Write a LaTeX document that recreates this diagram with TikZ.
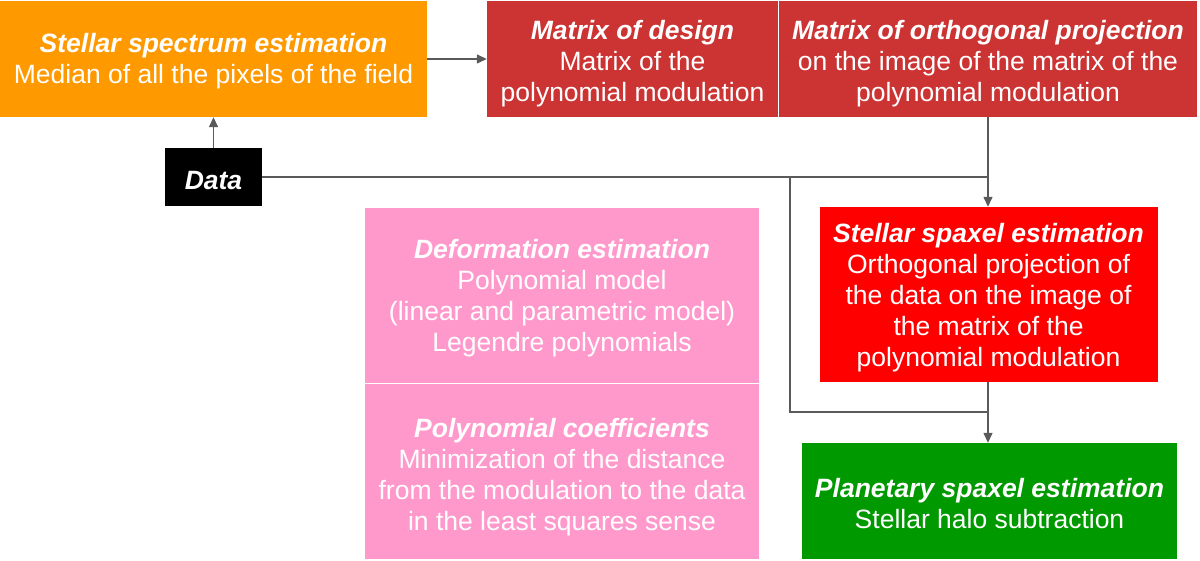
\documentclass[tikz,border=0pt]{standalone}
\usepackage{fontspec}
\setmainfont{Liberation Sans}
\usetikzlibrary{arrows.meta}
\definecolor{corange}{HTML}{FF9900}
\definecolor{cdred}{HTML}{CC3333}
\definecolor{cred}{HTML}{FF0000}
\definecolor{cpink}{HTML}{FF99CC}
\definecolor{cgreen}{HTML}{009900}
\definecolor{cline}{HTML}{5A5A5A}
% title line with a strut that pushes the text block down by #1 pt
\newcommand{\ttl}[2][3]{\rule{0pt}{\dimexpr 19.4pt+2\dimexpr #1pt\relax\relax}\textbf{\textit{#2}}}
\tikzset{
  box/.style={rectangle, inner sep=0pt, text=white, align=center,
    font=\fontsize{26.5}{31}\selectfont},
  conn/.style={draw=cline, line width=1.4pt},
  arr/.style={conn, -{Triangle[length=10pt,width=9pt]}}
}
\begin{document}
\begin{tikzpicture}[x=1pt,y=-1pt]
\useasboundingbox (0,0) rectangle (1200,561);
\node[box, fill=corange, minimum width=427pt, minimum height=116pt] (orange) at (213.5,59)
  {\ttl[2.5]{Stellar spectrum estimation}\\Median of all the pixels of the field};
\node[box, fill=cdred, minimum width=291pt, minimum height=116pt] (design) at (632.5,59)
  {\ttl[4.5]{Matrix of design}\\Matrix of the\\polynomial modulation};
\node[box, fill=cdred, minimum width=418pt, minimum height=116pt] (ortho) at (988,59)
  {\ttl[4.5]{Matrix of orthogonal projection}\\on the image of the matrix of the\\polynomial modulation};
\node[box, fill=black, minimum width=97pt, minimum height=58pt] (data) at (213.5,177)
  {\ttl[3]{Data}};
\node[box, fill=cpink, minimum width=394pt, minimum height=175pt] (pink1) at (562,295.5)
  {\ttl[2.5]{Deformation estimation}\\Polynomial model\\(linear and parametric model)\\Legendre polynomials};
\node[box, fill=cpink, minimum width=394pt, minimum height=175pt] (pink2) at (562,471.5)
  {\ttl[5.5]{Polynomial coefficients}\\Minimization of the distance\\from the modulation to the data\\in the least squares sense};
\node[box, fill=cred, minimum width=338pt, minimum height=175pt] (red) at (988.5,294.5)
  {\ttl[3]{Stellar spaxel estimation}\\Orthogonal projection of\\the data on the image of\\the matrix of the\\polynomial modulation};
\node[box, fill=cgreen, minimum width=375pt, minimum height=116pt] (green) at (989.5,501)
  {\ttl[2]{Planetary spaxel estimation}\\Stellar halo subtraction};
\coordinate (j1) at (ortho.south |- data.east);
\coordinate (j2) at (790,177);
\coordinate (j3) at (790,412);
\coordinate (j4) at (ortho.south |- j3);
\draw[arr] (orange.east) -- (design.west);
\draw[arr] (data.north) -- (orange.south -| data.north);
\draw[conn] (data.east) -- (j1);
\draw[arr] (ortho.south) -- (ortho.south |- red.north);
\draw[conn] (j2) -- (j3) -- (j4);
\draw[arr] (ortho.south |- red.south) -- (ortho.south |- green.north);
\end{tikzpicture}
\end{document}
